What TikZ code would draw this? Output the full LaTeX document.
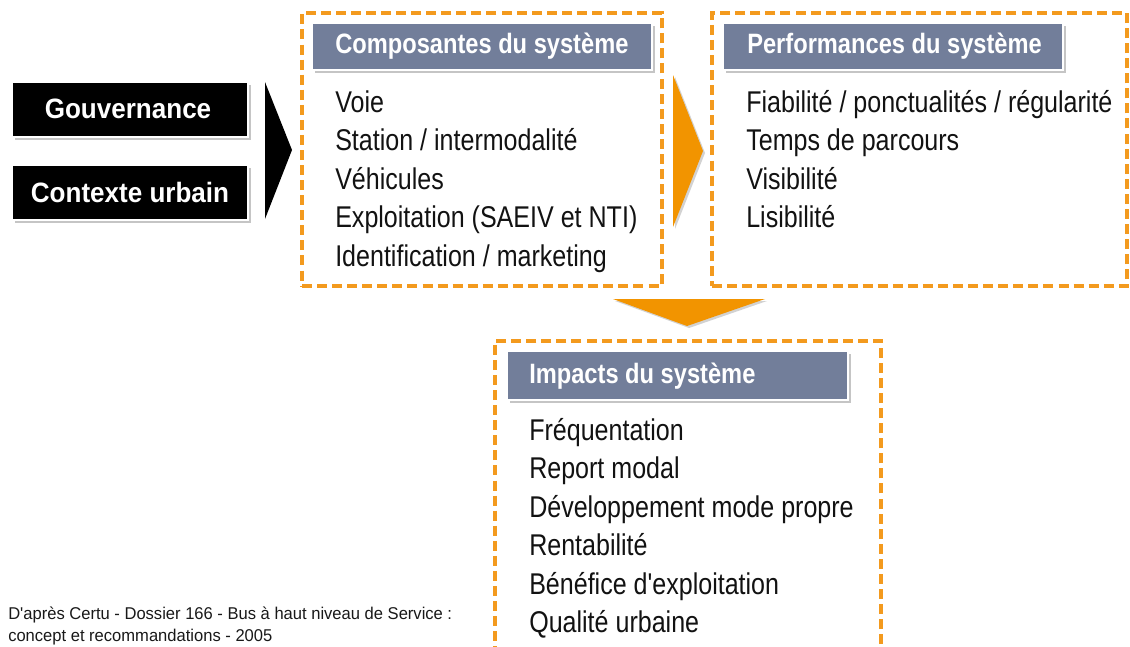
\documentclass[tikz,border=0pt]{standalone}
\usepackage{fontspec}
\setmainfont{Liberation Sans}
\newfontfamily\itemfont[FakeStretch=0.835]{Liberation Sans}
\newfontfamily\headfont[FakeStretch=0.845]{Liberation Sans}
\newfontfamily\blackfont[FakeStretch=0.93]{Liberation Sans}
\newfontfamily\notefont[FakeStretch=0.97]{Liberation Sans}
\usetikzlibrary{fit,shadows}
\definecolor{dashorange}{HTML}{F39A1E}
\definecolor{arroworange}{HTML}{F29400}
\definecolor{headblue}{HTML}{727E9A}
\tikzset{
  groupbox/.style={draw=dashorange, line width=2.6pt, dash pattern=on 7.5pt off 3.8pt},
  headbox/.style={fill=headblue, draw=white, line width=1.2pt, inner sep=0pt,
    drop shadow={shadow xshift=2pt, shadow yshift=-2pt, opacity=0.45}},
  blackbox/.style={fill=black, draw=white, line width=1.2pt, inner sep=0pt,
    drop shadow={shadow xshift=2pt, shadow yshift=-2pt, opacity=0.45}},
  headtext/.style={anchor=base west, inner sep=0pt, text=white, font=\headfont\bfseries\fontsize{21pt}{24pt}\selectfont},
  blacktext/.style={anchor=base, inner sep=0pt, text=white, font=\blackfont\bfseries\fontsize{21pt}{24pt}\selectfont},
  itemtext/.style={anchor=base west, inner sep=0pt, text=black!93, font=\itemfont\fontsize{22.5pt}{26pt}\selectfont},
  notetext/.style={anchor=base west, inner sep=0pt, text=black!90, font=\notefont\fontsize{12.8pt}{14pt}\selectfont},
  bigarrow/.style={fill=arroworange, drop shadow={shadow xshift=1.5pt, shadow yshift=-1.5pt, opacity=0.35}}
}
\begin{document}
\begin{tikzpicture}[x=0.75pt,y=-0.75pt]
\clip (0,0) rectangle (1130,646);
\fill[white] (0,0) rectangle (1130,646);

% left black boxes
\node[blackbox, fit={(12,82) (248,137)}] (gouv) {};
\node[blacktext] (gouvt) at (128,118) {Gouvernance};
\node[blackbox, fit={(12,165) (248,220)}] (ctx) {};
\node[blacktext] (ctxt) at (130,202) {Contexte urbain};

% black arrow
\fill[black] (265,82) -- (292,150) -- (265,219) -- cycle;

% Composantes
\node[groupbox, fit={(302,13) (662,286)}, inner sep=0pt] (comp) {};
\node[headbox, fit={(312,23) (652,70)}] (comph) {};
\node[headtext] (compht) at (335,53) {Composantes du système};
\node[itemtext] (c1) at (335,112) {Voie};
\node[itemtext] (c2) at (335,150.5) {Station / intermodalité};
\node[itemtext] (c3) at (335,189) {Véhicules};
\node[itemtext] (c4) at (335,227.5) {Exploitation (SAEIV et NTI)};
\node[itemtext] (c5) at (335,266) {Identification / marketing};

% orange right arrow
\path[bigarrow] (673,75) -- (703,151) -- (673,227) -- cycle;

% Performances
\node[groupbox, fit={(712,13) (1127,286)}, inner sep=0pt] (perf) {};
\node[headbox, fit={(723,23) (1063,70)}] (perfh) {};
\node[headtext] (perfht) at (747,53) {Performances du système};
\node[itemtext] (p1) at (746,112) {Fiabilité / ponctualités / régularité};
\node[itemtext] (p2) at (746,150.5) {Temps de parcours};
\node[itemtext] (p3) at (746,189) {Visibilité};
\node[itemtext] (p4) at (746,227.5) {Lisibilité};

% orange down arrow
\path[bigarrow] (613,299) -- (765,299) -- (687,326) -- cycle;

% Impacts
\node[groupbox, fit={(495,341) (881,680)}, inner sep=0pt] (imp) {};
\node[headbox, fit={(507,351) (848,400)}] (imph) {};
\node[headtext] (impht) at (529,383) {Impacts du système};
\node[itemtext] (i1) at (529,440) {Fréquentation};
\node[itemtext] (i2) at (529,478.5) {Report modal};
\node[itemtext] (i3) at (529,517) {Développement mode propre};
\node[itemtext] (i4) at (529,555.5) {Rentabilité};
\node[itemtext] (i5) at (529,594) {Bénéfice d'exploitation};
\node[itemtext] (i6) at (529,632.5) {Qualité urbaine};

% note
\node[notetext] (n1) at (8,619) {D'après Certu - Dossier 166 - Bus à haut niveau de Service :};
\node[notetext] (n2) at (8,641) {concept et recommandations - 2005};
\end{tikzpicture}
\end{document}
